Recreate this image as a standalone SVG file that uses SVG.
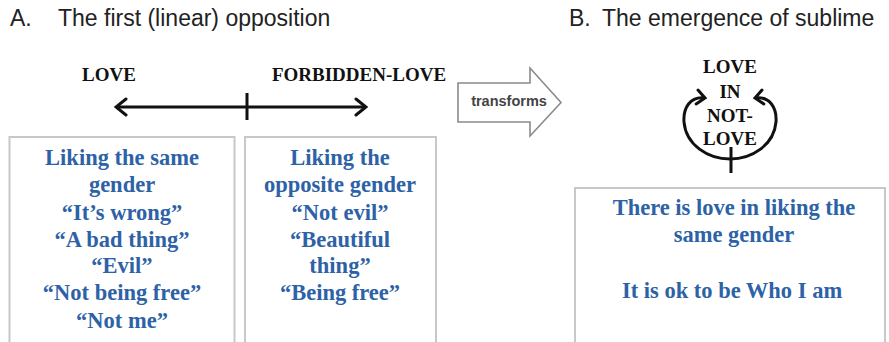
<svg xmlns="http://www.w3.org/2000/svg" width="889" height="342" viewBox="0 0 889 342">
<style>
.title{font-family:"Liberation Sans",Arial,sans-serif;font-size:23px;fill:#222}
.lbl{font-family:"Liberation Serif","Times New Roman",serif;font-weight:bold;font-size:19px;fill:#111;text-anchor:middle}
.body{font-family:"Liberation Serif","Times New Roman",serif;font-weight:bold;font-size:22.5px;fill:#2d62a6;text-anchor:middle}
.box{fill:#fff;stroke:#c8c8c8;stroke-width:2}
.line{fill:none;stroke:#111;stroke-width:3}
.tr{font-family:"Liberation Sans",Arial,sans-serif;font-weight:bold;font-size:14.5px;fill:#444;text-anchor:middle}
</style>
<defs>
<marker id="chev" markerUnits="userSpaceOnUse" viewBox="-12 -10 14 20" markerWidth="14" markerHeight="20" refX="0" refY="0" orient="auto-start-reverse">
<path d="M-10,-8 L0,0 L-10,8" fill="none" stroke="#111" stroke-width="3" stroke-linecap="round" stroke-linejoin="miter"/>
</marker>
<marker id="chevs" markerUnits="userSpaceOnUse" viewBox="-10 -9 12 18" markerWidth="12" markerHeight="18" refX="0" refY="0" orient="auto-start-reverse">
<path d="M-8,-7 L0,0 L-8,7" fill="none" stroke="#111" stroke-width="3" stroke-linecap="round"/>
</marker>
</defs>
<rect width="889" height="342" fill="#fff"/>

<g id="title-a">
<text class="title" x="10" y="26">A.</text>
<text class="title" x="58" y="26">The first (linear) opposition</text>
</g>
<g id="title-b">
<text class="title" x="569" y="26">B.</text>
<text class="title" x="602" y="26">The emergence of sublime</text>
</g>

<g id="label-love"><text class="lbl" x="109" y="81">LOVE</text></g>
<g id="label-forbidden"><text class="lbl" x="359" y="81">FORBIDDEN-LOVE</text></g>

<g id="box-same">
<rect class="box" x="9.5" y="137" width="225" height="215"/>
<text class="body" x="122" y="165">Liking the same</text>
<text class="body" x="122" y="192">gender</text>
<text class="body" x="122" y="220">“It’s wrong”</text>
<text class="body" x="122" y="247">“A bad thing”</text>
<text class="body" x="122" y="273">“Evil”</text>
<text class="body" x="122" y="300">“Not being free”</text>
<text class="body" x="122" y="328">“Not me”</text>
</g>

<g id="box-opposite">
<rect class="box" x="245" y="137" width="191" height="215"/>
<text class="body" x="340" y="165">Liking the</text>
<text class="body" x="340" y="192">opposite gender</text>
<text class="body" x="340" y="220">“Not evil”</text>
<text class="body" x="340" y="247">“Beautiful</text>
<text class="body" x="340" y="273">thing”</text>
<text class="body" x="340" y="300">“Being free”</text>
</g>

<g id="transforms">
<polygon points="458,83 530,83 530,68 561,102.5 530,136 530,122 458,122" fill="#fff" stroke="#8a8a8a" stroke-width="1.6"/>
<text class="tr" x="509" y="106">transforms</text>
</g>

<g id="sublime">
<text class="lbl" x="730" y="73">LOVE</text>
<text class="lbl" x="730" y="98">IN</text>
<text class="lbl" x="730" y="122">NOT-</text>
<text class="lbl" x="730" y="145">LOVE</text>
</g>

<g id="box-sublime">
<rect class="box" x="575" y="188" width="310" height="165"/>
<text class="body" x="734" y="215">There is love in liking the</text>
<text class="body" x="734" y="242">same gender</text>
<text class="body" x="732" y="298">It is ok to be Who I am</text>
</g>

<g id="connectors">
<line class="line" x1="116" y1="107" x2="366" y2="107" marker-start="url(#chev)" marker-end="url(#chev)"/>
<line class="line" x1="247" y1="93" x2="247" y2="120"/>
<path class="line" d="M705,98 C690,96 683,108 684,122 C686,145 708,159 730,159 C752,159 774,145 776,122 C777,108 770,96 755,98" marker-start="url(#chevs)" marker-end="url(#chevs)"/>
<line class="line" x1="731" y1="147" x2="731" y2="173"/>
</g>
</svg>
